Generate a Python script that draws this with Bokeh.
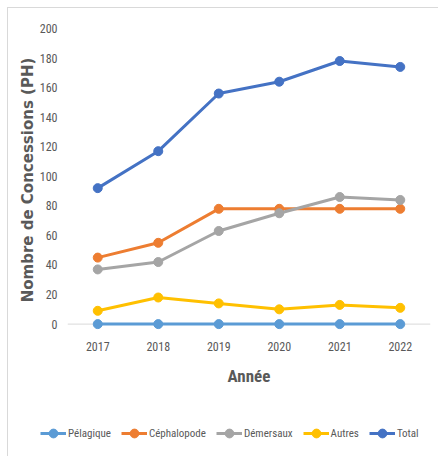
from bokeh.plotting import figure
from bokeh.models import Range1d, FactorRange, FixedTicker, Span, Legend, LegendItem
from bokeh.layouts import column
from bokeh.embed import file_html
from bokeh.resources import INLINE

years = ["2017", "2018", "2019", "2020", "2021", "2022"]
pelagique = [0, 0, 0, 0, 0, 0]
cephalopode = [45, 55, 78, 78, 78, 78]
demersaux = [37, 42, 63, 75, 86, 84]
autres = [9, 18, 14, 10, 13, 11]
total = [92, 117, 156, 164, 178, 174]
y_ticks = [0, 20, 40, 60, 80, 100, 120, 140, 160, 180, 200]

series = [
    ("Pélagique", pelagique, "#5B9BD5"),
    ("Céphalopode", cephalopode, "#ED7D31"),
    ("Démersaux", demersaux, "#A5A5A5"),
    ("Autres", autres, "#FFC000"),
    ("Total", total, "#4472C4"),
]

NARROW = "Roboto Condensed"
GRAY = "#595959"
BORDER = "#D9D9D9"

p = figure(width=438, height=410, x_range=FactorRange(*years), y_range=Range1d(-5, 200),
           output_backend="svg", toolbar_location=None, frame_align=False,
           min_border_left=67, min_border_right=8, min_border_top=28, min_border_bottom=79)
p.border_fill_alpha = 0
p.background_fill_alpha = 0
p.styles = {"background": "linear-gradient(%s,%s) 7px 7px / 431px 1px no-repeat, "
                          "linear-gradient(%s,%s) 7px 7px / 1px 403px no-repeat, white" % (BORDER, BORDER, BORDER, BORDER)}
p.outline_line_color = None
p.xgrid.grid_line_color = None
p.ygrid.grid_line_color = None

p.add_layout(Span(location=0, dimension="width", line_color=BORDER, line_width=1, level="underlay"))

for name, vals, color in series:
    p.line(years, vals, line_color=color, line_width=3)
    p.scatter(years, vals, size=9, fill_color=color, line_color=color)

p.yaxis.ticker = FixedTicker(ticks=y_ticks)
p.yaxis.axis_line_color = None
p.yaxis.major_tick_line_color = None
p.yaxis.minor_tick_line_color = None
p.yaxis.major_tick_out = 0
p.yaxis.major_tick_in = 0
p.yaxis.minor_tick_out = 0
p.yaxis.major_label_standoff = 10
p.yaxis.major_label_text_font = NARROW
p.yaxis.major_label_text_font_size = "12px"
p.yaxis.major_label_text_color = GRAY
p.yaxis.axis_label = "Nombre de Concessions (PH)"
p.yaxis.axis_label_text_font = "DejaVu Sans"
p.yaxis.axis_label_text_font_style = "bold"
p.yaxis.axis_label_text_font_size = "15px"
p.yaxis.axis_label_text_color = GRAY
p.yaxis.axis_label_standoff = 0

p.xaxis.axis_line_color = None
p.xaxis.major_tick_line_color = None
p.xaxis.major_tick_out = 0
p.xaxis.major_tick_in = 0
p.xaxis.major_label_standoff = 10
p.xaxis.major_label_text_font = NARROW
p.xaxis.major_label_text_font_size = "12px"
p.xaxis.major_label_text_color = GRAY
p.xaxis.axis_label = "Année"
p.xaxis.axis_label_text_font = NARROW
p.xaxis.axis_label_text_font_style = "bold"
p.xaxis.axis_label_text_font_size = "17px"
p.xaxis.axis_label_text_color = GRAY
p.xaxis.axis_label_standoff = 12

# legend strip below the chart
q = figure(width=438, height=46, x_range=(0, 1), y_range=(0, 1), output_backend="svg",
           toolbar_location=None, x_axis_type=None, y_axis_type=None, frame_align=False,
           min_border_left=0, min_border_right=0, min_border_top=0, min_border_bottom=0)
q.border_fill_alpha = 0
q.background_fill_alpha = 0
q.styles = {"background": "linear-gradient(%s,%s) 7px 0px / 1px 46px no-repeat, white" % (BORDER, BORDER)}
q.outline_line_color = None
q.xgrid.grid_line_color = None
q.ygrid.grid_line_color = None
items = []
for name, vals, color in series:
    l = q.line([-10, -9], [-10, -10], line_color=color, line_width=3)
    s = q.scatter([-10], [-10], size=9, fill_color=color, line_color=color)
    items.append(LegendItem(label=name, renderers=[l, s]))
legend = Legend(items=items, orientation="horizontal", location=(40, 12),
                border_line_color=None, background_fill_alpha=0,
                label_text_font=NARROW, label_text_font_size="11px", label_text_color=GRAY,
                glyph_width=26, glyph_height=22, label_standoff=2, spacing=10, padding=0, margin=0)
q.add_layout(legend, "center")

layout = column(p, q, spacing=0)
open("out.html", "w").write(file_html(layout, INLINE))
